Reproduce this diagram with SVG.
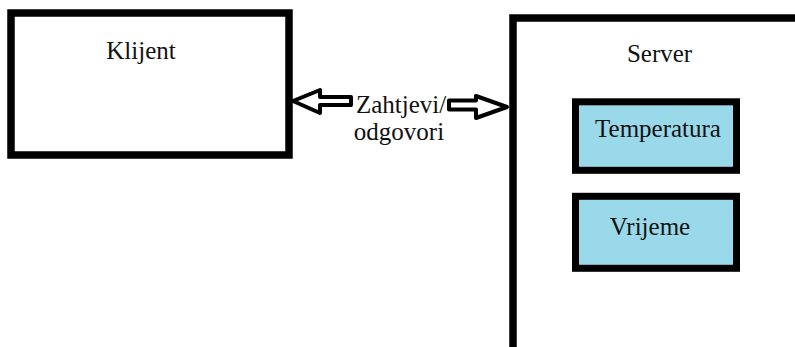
<svg xmlns="http://www.w3.org/2000/svg" width="795" height="347" viewBox="0 0 795 347">
<style>
.box{fill:#fff;stroke:#000;stroke-width:7.5}
.sub{fill:#99D9EA;stroke:#000;stroke-width:7}
.lbl{font-family:"Liberation Serif","Times New Roman",serif;font-size:25px;fill:#111;text-anchor:middle}
.arr{fill:#fff;stroke:#000;stroke-width:4;stroke-linejoin:round}
</style>
<rect width="795" height="347" fill="#fff"/>
<g id="klijent">
<rect class="box" x="11" y="13" width="278" height="142"/>
<text class="lbl" x="141" y="59">Klijent</text>
</g>
<g id="server">
<rect class="box" x="513" y="18" width="300" height="350"/>
<text class="lbl" x="659.5" y="62">Server</text>
</g>
<g id="temperatura">
<rect class="sub" x="575.5" y="101.8" width="161" height="68.5"/>
<text class="lbl" x="658" y="137">Temperatura</text>
</g>
<g id="vrijeme">
<rect class="sub" x="575.5" y="196.3" width="161" height="72"/>
<text class="lbl" x="650" y="235">Vrijeme</text>
</g>
<g id="connectors">
<path class="arr" d="M293,101 L320,90 L320,97 L351,97 L351,105 L320,105 L320,113 Z"/>
<path class="arr" d="M507,107 L476,96 L476,100.5 L449,100.5 L449,109.5 L476,109.5 L476,118 Z"/>
<text class="lbl" x="401" y="113">Zahtjevi/</text>
<text class="lbl" x="399" y="140">odgovori</text>
</g>
</svg>
